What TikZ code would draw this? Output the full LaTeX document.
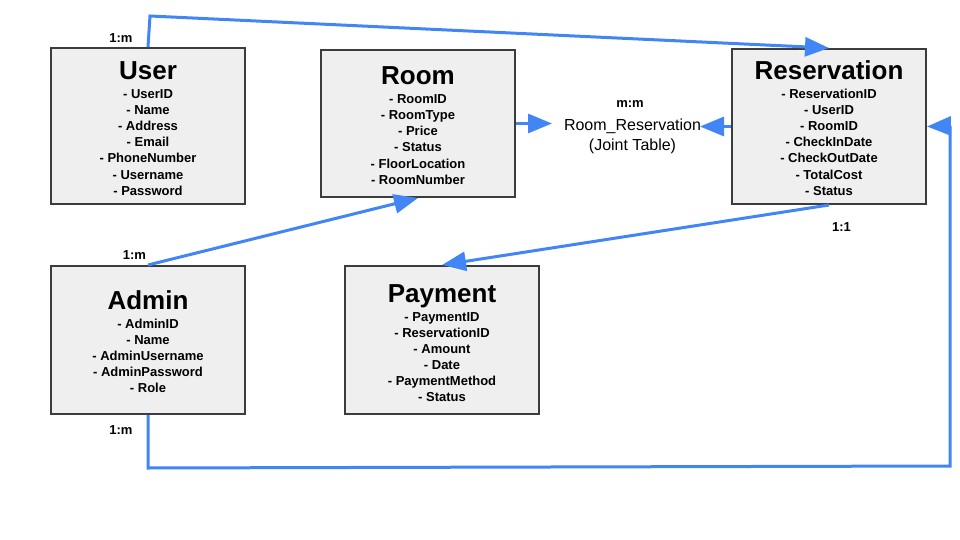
\documentclass[tikz,border=0pt]{standalone}
\usepackage{fontspec}
\setmainfont{Liberation Sans}
\usetikzlibrary{arrows.meta}
\definecolor{conn}{HTML}{4285F4}
\definecolor{boxfill}{HTML}{EFEFEF}
\definecolor{boxline}{HTML}{3C3C3C}
\tikzset{
 entity/.style={draw=boxline, fill=boxfill, line width=2pt, inner sep=0pt, minimum width=194pt},
 etitle/.style={anchor=base, inner sep=0pt, font=\fontsize{26}{30}\selectfont\bfseries},
 attr/.style={anchor=base, inner sep=0pt, font=\fontsize{13}{16}\selectfont\bfseries},
 card/.style={anchor=base, inner sep=0pt, font=\fontsize{13}{16}\selectfont\bfseries},
 joint/.style={anchor=base, inner sep=0pt, font=\fontsize{16}{19}\selectfont},
 link/.style={draw=conn, line width=3pt, line join=miter},
 arr/.style={-{Triangle[length=24pt,width=19pt]}},
}
\begin{document}
\begin{tikzpicture}[x=1pt,y=-1pt]
\useasboundingbox (0,0) rectangle (960,540);
% entity boxes
\node[entity, minimum height=156pt] (user) at (148,126) {};
\node[entity, minimum height=147pt] (room) at (418,123.5) {};
\node[entity, minimum height=155pt] (res) at (829,126.5) {};
\node[entity, minimum height=148pt] (admin) at (148,340) {};
\node[entity, minimum height=148pt] (pay) at (442,340) {};
% titles
\node[etitle] (user-t) at (148,80) {User};
\node[etitle] (room-t) at (418,85) {Room};
\node[etitle] (res-t) at (829,80) {Reservation};
\node[etitle] (admin-t) at (148,309) {Admin};
\node[etitle] (pay-t) at (442,302) {Payment};
% attributes
\foreach \t [count=\i] in {UserID,Name,Address,Email,PhoneNumber,Username,Password}
  \node[attr] (user-a\i) at (148,{83+16*\i}) {- \t};
\foreach \t [count=\i] in {RoomID,RoomType,Price,Status,FloorLocation,RoomNumber}
  \node[attr] (room-a\i) at (418,{88+16*\i}) {- \t};
\foreach \t [count=\i] in {ReservationID,UserID,RoomID,CheckInDate,CheckOutDate,TotalCost,Status}
  \node[attr] (res-a\i) at (829,{83+16*\i}) {- \t};
\foreach \t [count=\i] in {AdminID,Name,AdminUsername,AdminPassword,Role}
  \node[attr] (admin-a\i) at (148,{312+16*\i}) {- \t};
\foreach \t [count=\i] in {PaymentID,ReservationID,Amount,Date,PaymentMethod,Status}
  \node[attr] (pay-a\i) at (442,{305+16*\i}) {- \t};
% joint table
\node[joint] (rr1) at (632.5,131) {Room\_Reservation};
\node[joint] (rr2) at (632.5,151) {(Joint Table)};
% cardinalities
\node[card] (c1) at (121,43) {1:m};
\node[card] (c2) at (134.5,259) {1:m};
\node[card] (c3) at (121,434) {1:m};
\node[card] (c4) at (630,108) {m:m};
\node[card] (c5) at (841.5,231) {1:1};
% helper coordinates
\coordinate (ucorner) at (150,16);
\coordinate (rrin) at (552,125);
\coordinate (rrout) at (700,127);
\coordinate (b1) at (148,468);
\coordinate (b2) at (950,466);
\coordinate (b3) at (950,126);
% connectors
\draw[link,arr] (user.north) -- (ucorner) -- (res.north);
\draw[link,arr] (room.east) -- (room.east -| rrin);
\draw[link,arr] (res.west) -- (res.west -| rrout);
\draw[link,arr] (admin.north) -- (room.south);
\draw[link,arr] (res.south) -- (pay.north);
\draw[link,arr] (admin.south) -- (b1) -- (b2) -- (b3) -- (res.east);
\end{tikzpicture}
\end{document}
